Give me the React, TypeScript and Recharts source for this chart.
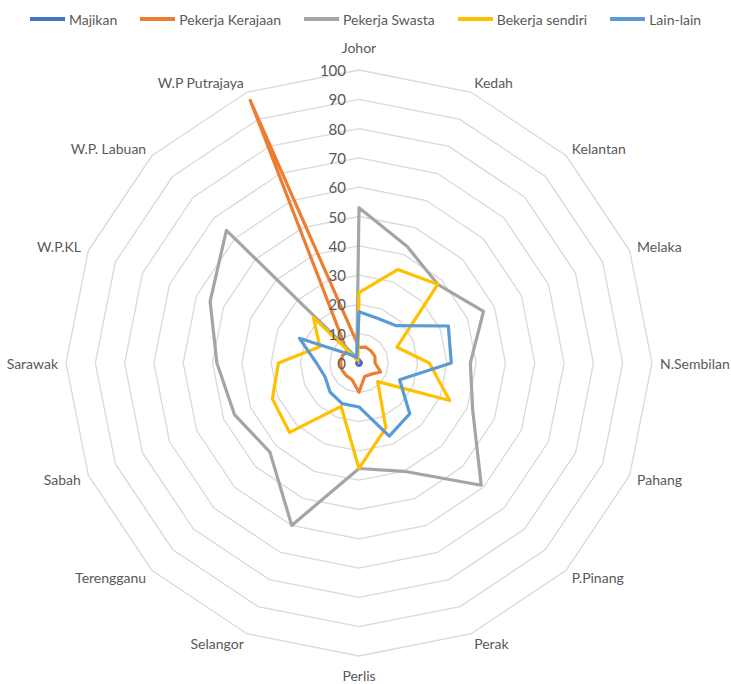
import React from 'react';
import { RadarChart, Radar, PolarGrid, PolarAngleAxis, PolarRadiusAxis, Legend } from 'recharts';

const FONT = 'Lato, "Open Sans", sans-serif';
const TEXT = '#595959';
const CX = 359;
const CY = 363;
const R = 293;

const categories = [
    'Johor', 'Kedah', 'Kelantan', 'Melaka', 'N.Sembilan', 'Pahang', 'P.Pinang', 'Perak',
    'Perlis', 'Selangor', 'Terengganu', 'Sabah', 'Sarawak', 'W.P.KL', 'W.P. Labuan', 'W.P Putrajaya',
];

const majikan = [1.2, 0.8, 0.8, 0.8, 0.8, 0.8, 0.8, 0.8, 0.8, 0.8, 0.8, 0.8, 0.8, 0.8, 0.8, 0.8];
const pekerjaKerajaan = [5.3, 5.9, 5.8, 5.9, 5.5, 8, 5.5, 5, 10, 6.2, 6.1, 6.3, 6.3, 6.2, 5.8, 97];
const pekerjaSwasta = [53, 43, 38, 46, 38, 42, 59, 40, 36, 60, 43, 46, 48.5, 55, 64, 2];
const bekerjaSendiri = [24, 34.5, 38, 14, 24, 33.5, 9, 24, 36, 16, 33.5, 32, 27.5, 14.5, 22, 1];
const lainLain = [17.5, 16.5, 18, 33, 31.5, 15, 24.5, 27, 15, 15, 14, 12.5, 14.5, 22, 4, 2];

const radiusTicks = [0, 10, 20, 30, 40, 50, 60, 70, 80, 90, 100];

const series = [
    { key: 'majikan', name: 'Majikan', color: '#4472C4' },
    { key: 'kerajaan', name: 'Pekerja Kerajaan', color: '#ED7D31' },
    { key: 'swasta', name: 'Pekerja Swasta', color: '#A5A5A5' },
    { key: 'sendiri', name: 'Bekerja sendiri', color: '#FFC000' },
    { key: 'lain', name: 'Lain-lain', color: '#5B9BD5' },
];

const data = categories.map((name, i) => ({
    name,
    majikan: majikan[i],
    kerajaan: pekerjaKerajaan[i],
    swasta: pekerjaSwasta[i],
    sendiri: bekerjaSendiri[i],
    lain: lainLain[i],
}));

function AngleTick(props: any) {
    const i = categories.indexOf(props.payload.value);
    const a = ((90 - i * 22.5) * Math.PI) / 180;
    const cos = Math.cos(a);
    const sin = Math.sin(a);
    const px = CX + R * cos;
    const py = CY - R * sin;
    let x = px;
    let y = py;
    let anchor = 'middle';
    if (Math.abs(cos) < 0.01) {
        y = py + (sin > 0 ? -23 : 19);
    } else {
        x = px + cos * 8;
        y = py - sin * 11;
        anchor = cos > 0 ? 'start' : 'end';
    }
    return (
        <text x={x} y={y} textAnchor={anchor} dominantBaseline="central" fill={TEXT} fontSize={14} fontFamily={FONT}>
            {props.payload.value}
        </text>
    );
}

function RadiusTick(props: any) {
    return (
        <text x={props.x - 13} y={props.y} textAnchor="end" dominantBaseline="central" fill={TEXT} fontSize={15} fontFamily={FONT}>
            {props.payload.value}
        </text>
    );
}

function renderLegend() {
    return (
        <div
            style={{
                display: 'flex',
                justifyContent: 'center',
                alignItems: 'center',
                gap: 23,
                height: 38,
                fontFamily: FONT,
                fontSize: 14,
                color: TEXT,
            }}
        >
            {series.map((s) => (
                <div key={s.key} style={{ display: 'flex', alignItems: 'center' }}>
                    <span style={{ display: 'inline-block', width: 35, height: 4, background: s.color, marginRight: 4 }} />
                    {s.name}
                </div>
            ))}
        </div>
    );
}

export default function App() {
    return (
        <div style={{ position: 'absolute', left: 0, top: 0, width: 731, height: 684, background: '#fff' }}>
            <RadarChart
                width={731}
                height={684}
                data={data}
                cx={CX}
                cy={CY}
                outerRadius={R}
                margin={{ top: 0, right: 0, bottom: 0, left: 0 }}
            >
                <PolarGrid gridType="polygon" radialLines={false} stroke="#D9D9D9" strokeWidth={1.3} />
                <PolarAngleAxis dataKey="name" tick={AngleTick} tickLine={false} axisLine={false} />
                <PolarRadiusAxis
                    angle={90}
                    domain={[0, 100]}
                    ticks={radiusTicks as any}
                    tickCount={11}
                    tick={RadiusTick}
                    axisLine={false}
                    tickLine={false}
                />
                {series.map((s) => (
                    <Radar
                        key={s.key}
                        name={s.name}
                        dataKey={s.key}
                        stroke={s.color}
                        strokeWidth={3.2}
                        strokeLinejoin="round"
                        fill="none"
                        fillOpacity={0}
                        dot={false}
                        isAnimationActive={false}
                    />
                ))}
                <Legend verticalAlign="top" content={renderLegend} wrapperStyle={{ top: 0, left: 0, width: 731 }} />
            </RadarChart>
        </div>
    );
}
